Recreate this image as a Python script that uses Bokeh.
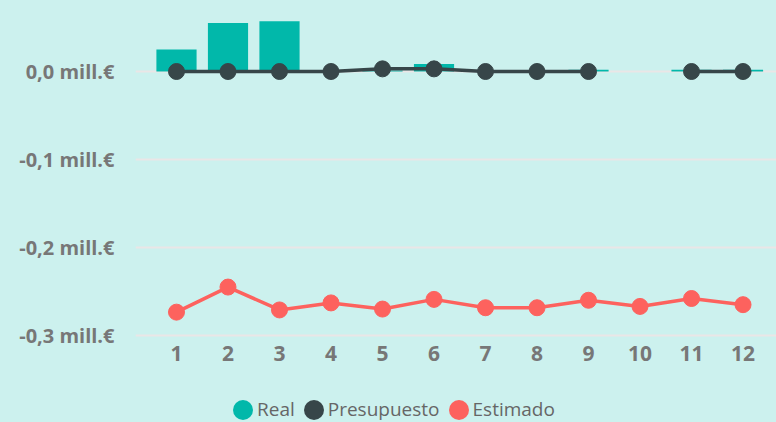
import math
from bokeh.plotting import figure
from bokeh.layouts import column
from bokeh.models import Range1d, FixedTicker, Legend, LegendItem
from bokeh.embed import file_html
from bokeh.resources import INLINE

nan = math.nan

# ---- data ----
months = [1, 2, 3, 4, 5, 6, 7, 8, 9, 10, 11, 12]
real = [0.025, 0.055, 0.057, 0.001, 0.001, 0.0085, 0.001, 0.001, 0.002, nan, 0.002, 0.002]
presupuesto = [0.0, 0.0, 0.0, 0.0, 0.003, 0.003, 0.0, 0.0, 0.0, nan, 0.0, 0.0]
estimado = [-0.2735, -0.245, -0.271, -0.263, -0.270, -0.259, -0.2685, -0.2685, -0.260, -0.267, -0.258, -0.265]
y_ticks = [0.0, -0.1, -0.2, -0.3]
y_tick_labels = ["0,0 mill.€", "-0,1 mill.€", "-0,2 mill.€", "-0,3 mill.€"]
series_names = ["Real", "Presupuesto", "Estimado"]

# ---- style ----
BG = "#CCF1EE"
TEAL = "#01B8AA"
DARK = "#374649"
RED = "#FD625E"
LABEL = "#777777"
FONT = "Open Sans"

p = figure(
    width=776, height=380,
    x_range=Range1d(0.204, 12.65),
    y_range=Range1d(-0.308, 0.0807),
    min_border_left=135, min_border_right=0,
    min_border_top=0, min_border_bottom=38,
    output_backend="svg", toolbar_location=None, title=None,
)
p.background_fill_color = None
p.border_fill_color = None
p.outline_line_color = None

# gridlines (drawn under the data)
p.xgrid.grid_line_color = None
p.ygrid.ticker = FixedTicker(ticks=y_ticks)
p.ygrid.grid_line_color = "#EAE6E6"
p.ygrid.grid_line_width = 2

# bars
p.vbar(x=months, top=real, bottom=0, width=0.78, color=TEAL, line_color=None)

# Presupuesto
p.line(x=months, y=presupuesto, line_color=DARK, line_width=3.5)
p.scatter(x=months, y=presupuesto, size=16, color=DARK)

# Estimado
p.line(x=months, y=estimado, line_color=RED, line_width=3.5)
p.scatter(x=months, y=estimado, size=16, color=RED)

# axes
p.xaxis.ticker = FixedTicker(ticks=months)
p.yaxis.ticker = FixedTicker(ticks=y_ticks)
p.yaxis.major_label_overrides = {t: l for t, l in zip(y_ticks, y_tick_labels)}
for ax in (p.xaxis, p.yaxis):
    ax.axis_line_color = None
    ax.major_tick_line_color = None
    ax.minor_tick_line_color = None
    ax.major_tick_out = 0
    ax.major_tick_in = 0
    ax.minor_tick_out = 0
    ax.minor_tick_in = 0
    ax.major_label_text_font = FONT
    ax.major_label_text_font_style = "bold"
    ax.major_label_text_color = LABEL
p.yaxis.major_label_text_font_size = "20px"
p.xaxis.major_label_text_font_size = "21px"
p.yaxis.major_label_standoff = 21
p.xaxis.major_label_standoff = 3

# ---- legend strip ----
lg = figure(
    width=776, height=42,
    x_range=Range1d(-20, -19), y_range=Range1d(-20, -19),
    x_axis_type=None, y_axis_type=None,
    min_border_left=0, min_border_right=0, min_border_top=0, min_border_bottom=0,
    output_backend="svg", toolbar_location=None, title=None,
)
lg.background_fill_color = None
lg.border_fill_color = None
lg.outline_line_color = None
lg.grid.visible = False
# off-screen proxies, only used to draw the legend's round keys
kw = dict(width=10, height=10, width_units="screen", height_units="screen", line_color=None)
r_real = lg.ellipse(x=months, y=real, fill_color=TEAL, **kw)
r_pres = lg.ellipse(x=months, y=presupuesto, fill_color=DARK, **kw)
r_est = lg.ellipse(x=months, y=estimado, fill_color=RED, **kw)

legend = Legend(
    items=[LegendItem(label=series_names[0], renderers=[r_real]),
           LegendItem(label=series_names[1], renderers=[r_pres]),
           LegendItem(label=series_names[2], renderers=[r_est])],
    location=(95, 0), orientation="horizontal",
    glyph_width=25, glyph_height=25, label_standoff=2, spacing=6,
    padding=0, margin=0, border_line_color=None, background_fill_alpha=0,
    label_text_font=FONT, label_text_font_size="19px", label_text_color="#666666",
)
lg.add_layout(legend)

layout = column(p, lg, spacing=0, styles={"background-color": BG})
open("out.html", "w").write(file_html(layout, INLINE))
